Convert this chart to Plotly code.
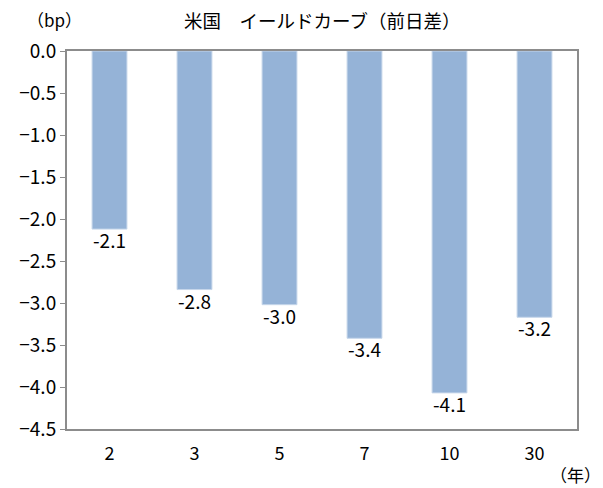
import plotly.graph_objects as go

categories = ["2", "3", "5", "7", "10", "30"]
values = [-2.12, -2.84, -3.02, -3.42, -4.07, -3.17]
labels = ["-2.1", "-2.8", "-3.0", "-3.4", "-4.1", "-3.2"]

FONT = "Noto Sans CJK JP"

fig = go.Figure()
fig.add_trace(go.Bar(
    x=categories, y=values,
    marker=dict(color="#95B3D7", line=dict(color="#C6D6EA", width=1)),
    hoverinfo="skip",
))

annotations = [
    dict(text="米国　イールドカーブ（前日差）", x=0.5, xref="paper", y=1.083, yref="paper",
         yanchor="middle", showarrow=False, font=dict(size=18.5)),
    dict(text="（bp）", x=-0.025, xref="paper", y=1.083, yref="paper", showarrow=False,
         xanchor="center", yanchor="middle", font=dict(size=17)),
    dict(text="（年）", x=1.05, xref="paper", y=-0.12, yref="paper", showarrow=False,
         xanchor="right", yanchor="middle", font=dict(size=17)),
]
for i, (v, t) in enumerate(zip(values, labels)):
    annotations.append(dict(x=i, y=v, xref="x", yref="y", text=t, showarrow=False,
                            yanchor="top", yshift=5, font=dict(size=19)))

fig.update_layout(
    width=603, height=488,
    margin=dict(l=67, r=26, t=51, b=59),
    paper_bgcolor="white", plot_bgcolor="white",
    bargap=0.59,
    showlegend=False,
    font=dict(family=FONT, size=16, color="#000000"),
    annotations=annotations,
)

fig.update_yaxes(
    range=[-4.5, 0], dtick=0.5, tickformat=".1f",
    showgrid=False, zeroline=False,
    showline=True, linecolor="#8C8C8C", linewidth=2, mirror=True,
    ticks="outside", ticklen=5, tickcolor="#8C8C8C",
    tickfont=dict(size=19),
)
fig.update_xaxes(
    type="category", categoryorder="array", categoryarray=categories,
    range=[-0.5, len(categories) - 0.5],
    showgrid=False, showline=True, linecolor="#8C8C8C", linewidth=2, mirror=True,
    ticks="", ticklabelstandoff=7,
    tickfont=dict(size=18),
)

fig.write_html("out.html")
